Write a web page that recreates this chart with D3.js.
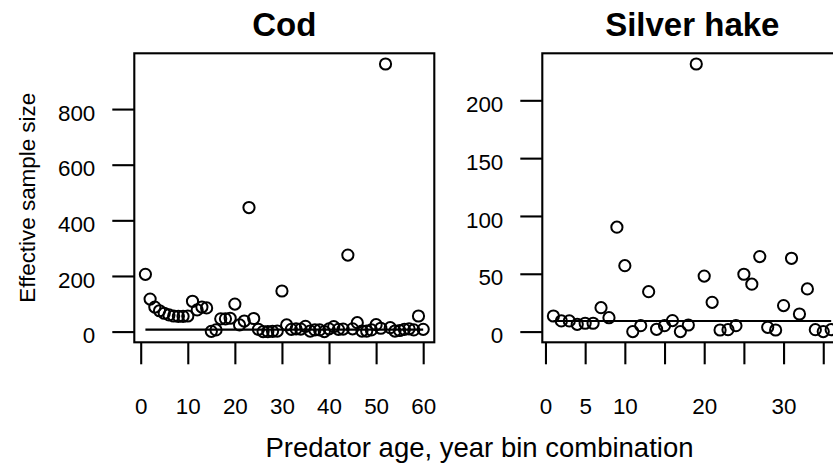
<!DOCTYPE html>
<html>
<head>
<meta charset="utf-8">
<script src="https://cdn.jsdelivr.net/npm/d3@7"></script>
<style>
body { margin: 0; background: #fff; }
svg { display: block; }
text { font-family: "Liberation Sans", Arial, sans-serif; fill: #000; }
</style>
</head>
<body>
<svg id="chart" width="833" height="467"></svg>
<script>
// effective sample size by predator age / year bin combination
var codValues = [206, 117, 88, 75, 66, 60, 56, 55, 55, 56,
                 109, 78, 88, 85, 1, 6, 46, 46, 48, 99,
                 24, 38, 446, 47, 8, 0, 0, 1, 2, 146,
                 24, 8, 10, 9, 19, 2, 6, 6, 0, 10,
                 18, 8, 9, 275, 10, 32, 2, 2, 6, 25,
                 12, 962, 14, 2, 4, 8, 10, 6, 56, 8];
var hakeValues = [13.5, 9.2, 9.2, 6.3, 7.2, 7.2, 20.7, 12, 90.3, 57,
                  0, 5.1, 34.5, 2, 5.1, 9.5, 0, 5.7, 231.4, 48,
                  25.3, 1.4, 1.7, 5.1, 49.6, 41, 64.9, 3.7, 1.4, 22.5,
                  63.4, 15.2, 36.9, 1.7, 0, 1.7];

// flat reference lines
var codRef = 7;
var hakeRef = 9.2;

// ticks and labels
var codYTicks = [0, 200, 400, 600, 800];
var codXTicks = [0, 10, 20, 30, 40, 50, 60];
var codXLabels = [0, 10, 20, 30, 40, 50, 60];
var hakeYTicks = [0, 50, 100, 150, 200];
var hakeXTicks = [0, 5, 10, 15, 20, 25, 30, 35];
var hakeXLabels = [0, 5, 10, 20, 30];

var svg = d3.select("#chart");

var plot_top = 53.3, plot_height = 289, plot_width = 300;
var tick_len = 22;
var line_w = 2.1;

function drawPanel(svg, values, ref, yTicks, xTicks, xLabels, title, left){

    var n = values.length;
    var ymin = d3.min(values), ymax = d3.max(values);
    var xr = n - 1, yr = ymax - ymin;

    // R style 4% padding on both axes
    var x = d3.scaleLinear()
        .domain([1 - 0.04 * xr, n + 0.04 * xr])
        .range([left, left + plot_width]);
    var y = d3.scaleLinear()
        .domain([ymin - 0.04 * yr, ymax + 0.04 * yr])
        .range([plot_top + plot_height, plot_top]);

    var g = svg.append("g");

    // y axis
    var yAxis = g.append("g")
        .attr("transform", "translate(" + left + ",0)")
        .call(d3.axisLeft(y).tickValues(yTicks).tickSize(tick_len).tickPadding(17).tickSizeOuter(0));
    yAxis.select(".domain").remove();
    yAxis.selectAll("line").attr("stroke", "#000").attr("stroke-width", line_w);
    yAxis.selectAll("text").attr("font-size", 22.4).attr("dy", "0.5em")
        .style("font-family", "'Liberation Sans', Arial, sans-serif");

    // x axis, some labels dropped like R does
    var xAxis = g.append("g")
        .attr("transform", "translate(0," + (plot_top + plot_height) + ")")
        .call(d3.axisBottom(x).tickValues(xTicks).tickSize(tick_len).tickPadding(34).tickSizeOuter(0)
            .tickFormat(function(d) { return xLabels.indexOf(d) >= 0 ? d : ""; }));
    xAxis.select(".domain").remove();
    xAxis.selectAll("line").attr("stroke", "#000").attr("stroke-width", line_w);
    xAxis.selectAll("text").attr("font-size", 22.4)
        .style("font-family", "'Liberation Sans', Arial, sans-serif");

    // reference line
    g.append("line")
        .attr("x1", x(1))
        .attr("x2", x(n))
        .attr("y1", y(ref))
        .attr("y2", y(ref))
        .attr("stroke", "#000")
        .attr("stroke-width", line_w);

    // points
    g.selectAll(".pt")
        .data(values)
        .enter().append("circle")
        .attr("class", "pt")
        .attr("cx", function(d, i) { return x(i + 1); })
        .attr("cy", function(d) { return y(d); })
        .attr("r", 5.6)
        .attr("fill", "none")
        .attr("stroke", "#000")
        .attr("stroke-width", 2);

    // box
    g.append("rect")
        .attr("x", left)
        .attr("y", plot_top)
        .attr("width", plot_width)
        .attr("height", plot_height)
        .attr("fill", "none")
        .attr("stroke", "#000")
        .attr("stroke-width", line_w);

    // title
    g.append("text")
        .text(title)
        .attr("x", left + plot_width / 2)
        .attr("y", 36)
        .attr("text-anchor", "middle")
        .attr("font-size", 33)
        .attr("font-weight", "bold");
}

drawPanel(svg, codValues, codRef, codYTicks, codXTicks, codXLabels, "Cod", 134.3);
drawPanel(svg, hakeValues, hakeRef, hakeYTicks, hakeXTicks, hakeXLabels, "Silver hake", 542.3);

// axis titles
svg.append("text")
    .text("Effective sample size")
    .attr("transform", "translate(35," + (plot_top + plot_height / 2) + ") rotate(-90)")
    .attr("text-anchor", "middle")
    .attr("font-size", 22.4);

svg.append("text")
    .text("Predator age, year bin combination")
    .attr("x", 479.5)
    .attr("y", 457)
    .attr("text-anchor", "middle")
    .attr("font-size", 27.5);
</script>
</body>
</html>
